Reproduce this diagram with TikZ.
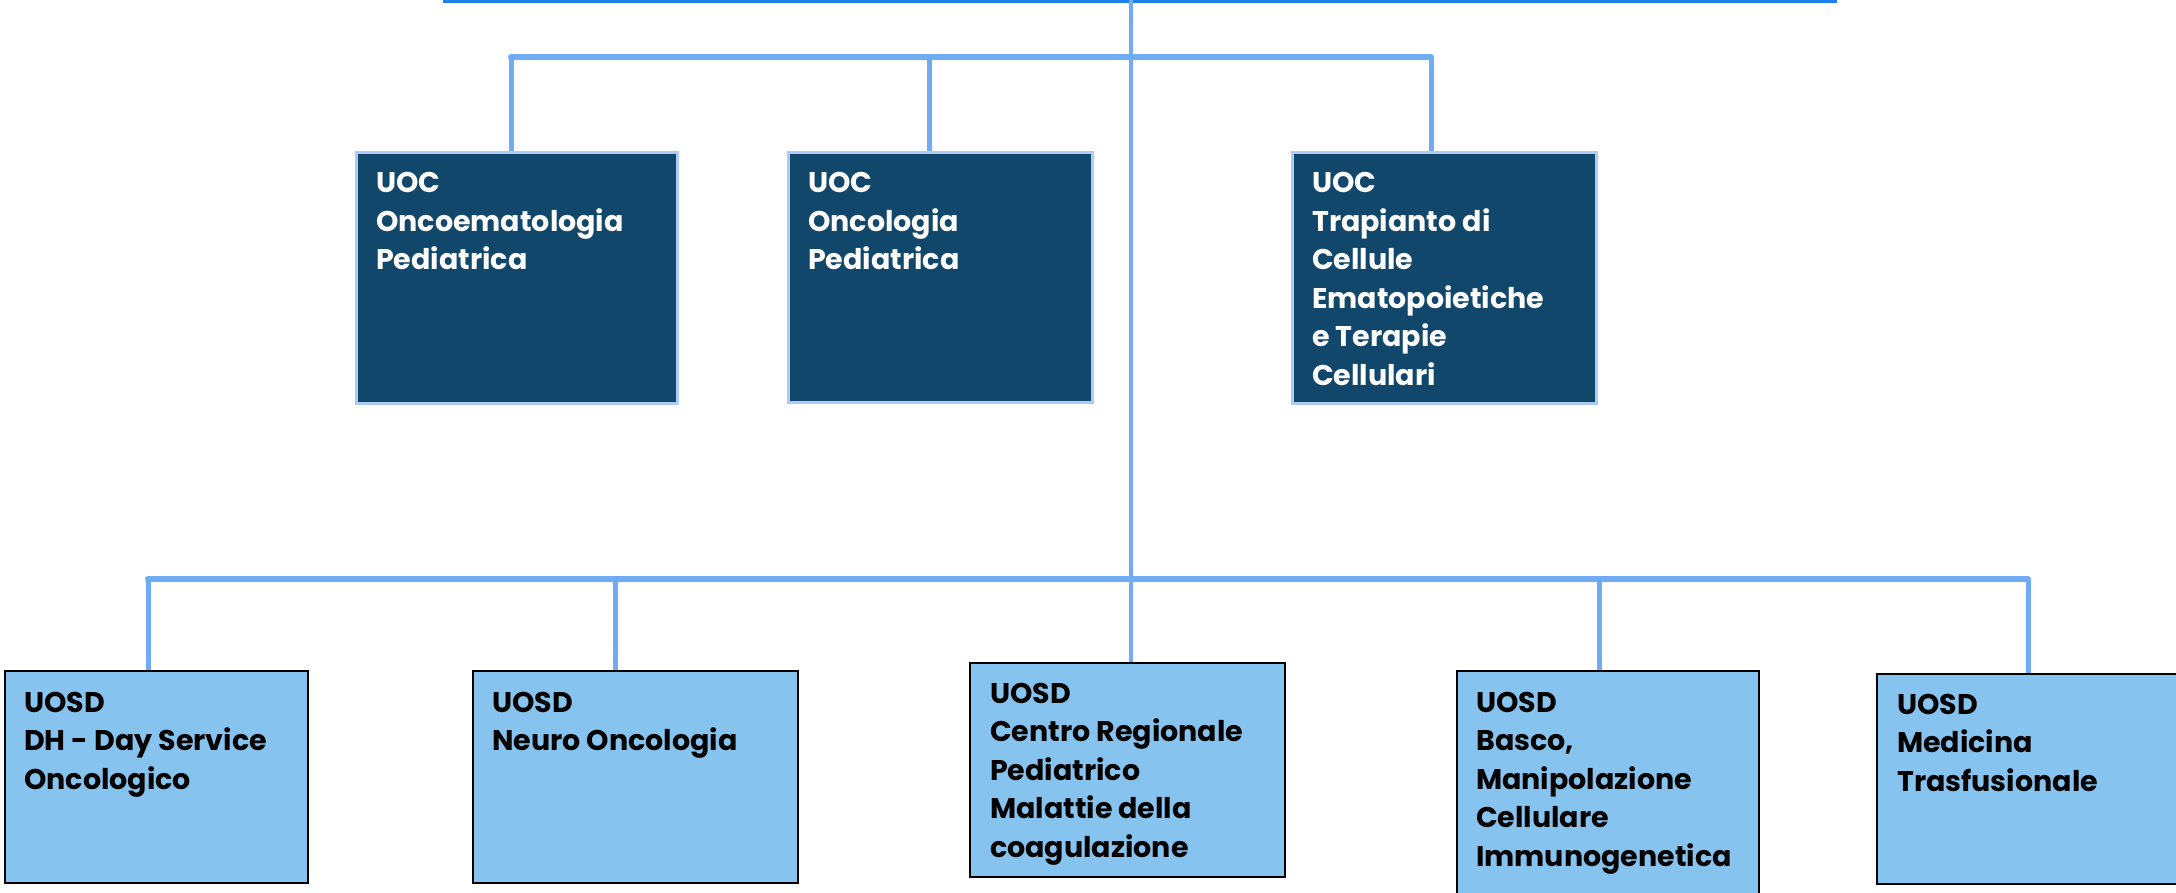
\documentclass[tikz,border=0pt]{standalone}
\usepackage{fontspec}
\setmainfont{Poppins}
\definecolor{connblue}{RGB}{112,172,245}
\definecolor{topblue}{RGB}{30,128,240}
\definecolor{uborder}{RGB}{170,204,246}
\definecolor{ufill}{RGB}{18,71,108}
\definecolor{lfill}{RGB}{134,195,238}
\newcommand{\boxlines}[1]{\vtop{\fontsize{28.5}{38.5}\selectfont\bfseries #1}}
\newcommand{\bxln}[1]{\hbox{#1}}
\begin{document}
\begin{tikzpicture}[x=1pt,y=1pt,
  conn/.style={draw=connblue, line width=5pt},
  barline/.style={draw=connblue, line width=6pt, line cap=round},
  topline/.style={draw=topblue, line width=6pt},
  ubox/.style={draw=uborder, line width=3pt, fill=ufill, inner sep=0pt, anchor=north west},
  lbox/.style={draw=black, line width=2pt, fill=lfill, inner sep=0pt, anchor=north west},
  boxtext/.style={anchor=base west, inner sep=0pt},
  utext/.style={boxtext, text=white},
  ltext/.style={boxtext, text=black}]
\useasboundingbox (0,0) rectangle (2176,-893);
% junction coordinates
\coordinate (topL) at (443,0);
\coordinate (topR) at (1837,0);
\coordinate (trunk) at (1131,0);
\coordinate (ubL) at (511,-57);
\coordinate (ubM) at (929,-57);
\coordinate (ubR) at (1431,-57);
\coordinate (lb1) at (148,-579);
\coordinate (lb2) at (615,-579);
\coordinate (lb4) at (1599,-579);
\coordinate (lb5) at (2028,-579);
% boxes
\node[ubox, minimum width=321, minimum height=251] (u1) at (355,-151) {};
\node[ubox, minimum width=304, minimum height=250] (u2) at (787,-151) {};
\node[ubox, minimum width=304, minimum height=251] (u3) at (1291,-151) {};
\node[lbox, minimum width=303, minimum height=212] (l1) at (4,-670) {};
\node[lbox, minimum width=325, minimum height=212] (l2) at (472,-670) {};
\node[lbox, minimum width=315, minimum height=214] (l3) at (969,-662) {};
\node[lbox, minimum width=302, minimum height=240] (l4) at (1456,-670) {};
\node[lbox, minimum width=309, minimum height=210] (l5) at (1876,-673) {};
% connectors
\draw[topline] (topL) -- (topR);
\draw[barline] (ubL) -- (ubR);
\draw[conn] (ubL) -- (ubL |- u1.north);
\draw[conn] (ubM) -- (ubM |- u2.north);
\draw[conn] (ubR) -- (ubR |- u3.north);
\draw[barline] (lb1) -- (lb5);
\draw[conn] (lb1) -- (lb1 |- l1.north);
\draw[conn] (lb2) -- (lb2 |- l2.north);
\draw[conn] (lb4) -- (lb4 |- l4.north);
\draw[conn] (lb5) -- (lb5 |- l5.north);
\draw[draw=connblue, line width=4pt] (trunk) -- (trunk |- l3.north);
% texts
\node[utext] (tu1) at ([xshift=21pt,yshift=-42pt]u1.north west) {\boxlines{\bxln{UOC}\bxln{Oncoematologia}\bxln{Pediatrica}}};
\node[utext] (tu2) at ([xshift=21pt,yshift=-42pt]u2.north west) {\boxlines{\bxln{UOC}\bxln{Oncologia}\bxln{Pediatrica}}};
\node[utext] (tu3) at ([xshift=21pt,yshift=-42pt]u3.north west) {\boxlines{\bxln{UOC}\bxln{Trapianto di}\bxln{Cellule}\bxln{Ematopoietiche}\bxln{e Terapie}\bxln{Cellulari}}};
\node[ltext] (tl1) at ([xshift=20pt,yshift=-42pt]l1.north west) {\boxlines{\bxln{UOSD}\bxln{DH - Day Service}\bxln{Oncologico}}};
\node[ltext] (tl2) at ([xshift=20pt,yshift=-42pt]l2.north west) {\boxlines{\bxln{UOSD}\bxln{Neuro Oncologia}}};
\node[ltext] (tl3) at ([xshift=21pt,yshift=-41pt]l3.north west) {\boxlines{\bxln{UOSD}\bxln{Centro Regionale}\bxln{Pediatrico}\bxln{Malattie della}\bxln{coagulazione}}};
\node[ltext] (tl4) at ([xshift=20pt,yshift=-42pt]l4.north west) {\boxlines{\bxln{UOSD}\bxln{Basco,}\bxln{Manipolazione}\bxln{Cellulare}\bxln{Immunogenetica}}};
\node[ltext] (tl5) at ([xshift=21pt,yshift=-41pt]l5.north west) {\boxlines{\bxln{UOSD}\bxln{Medicina}\bxln{Trasfusionale}}};
\end{tikzpicture}
\end{document}
